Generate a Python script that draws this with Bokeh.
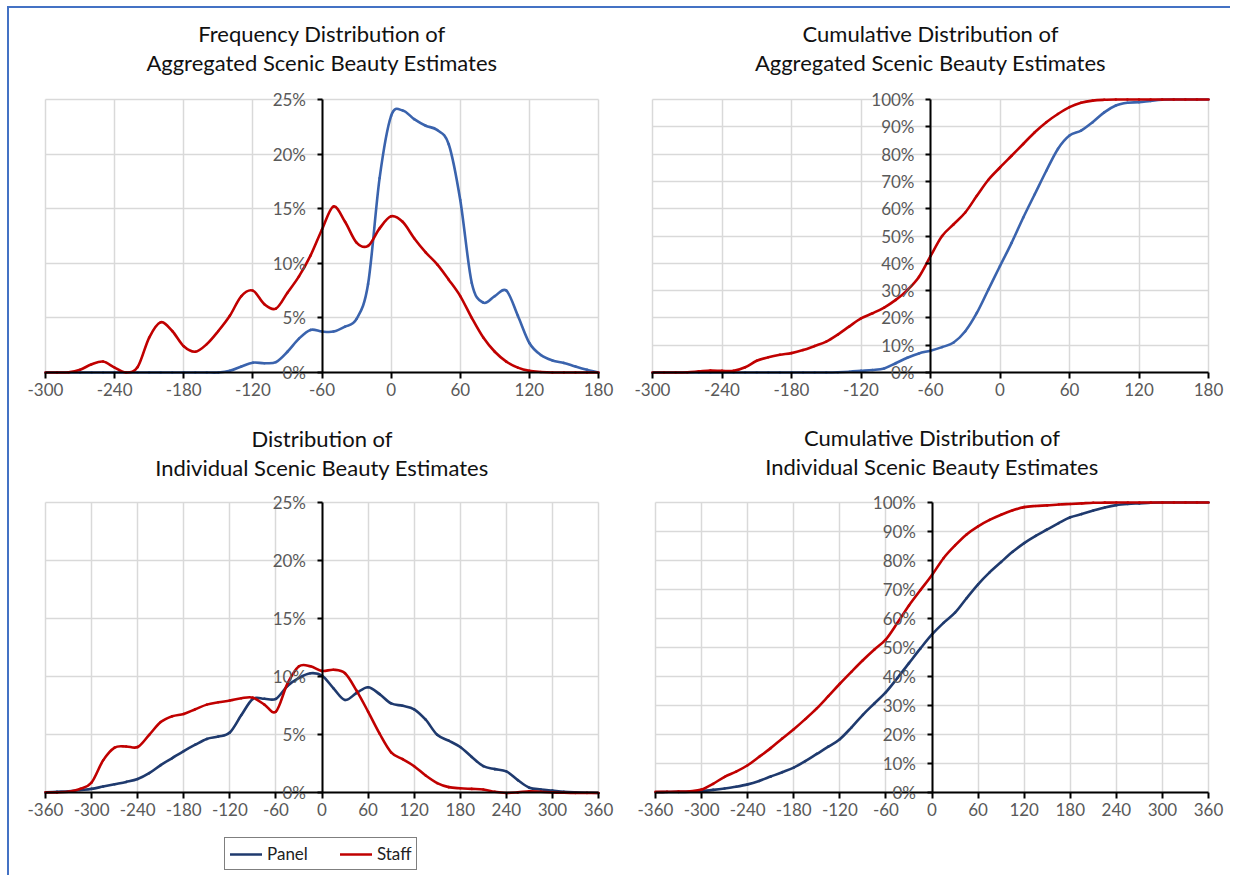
import numpy as np
from bokeh.plotting import figure
from bokeh.models import (FixedTicker, PrintfTickFormatter, Range1d, Title, Legend, LegendItem,
                          LinearAxis, Grid)
from bokeh.layouts import row, column
from bokeh.embed import file_html
from bokeh.resources import INLINE

# ---------------- data ----------------
# Top-left: frequency distribution of aggregated SBE (percent)
tl_x = list(range(-300, 181, 10))
tl_panel = [0, 0, 0, 0, 0, 0, 0, 0, 0, 0, 0, 0, 0, 0, 0, 0,
            0.15, 0.55, 0.9, 0.85, 0.95, 1.9, 3.1, 3.9, 3.75, 3.75, 4.2, 4.9, 8.1, 17.8,
            23.5, 24.0, 23.2, 22.6, 22.2, 20.9, 15.8, 8.2, 6.4, 7.0, 7.5, 5.2, 2.7, 1.6,
            1.1, 0.88, 0.55, 0.25, 0]
tl_staff = [0, 0, 0.02, 0.25, 0.75, 1.0, 0.45, 0, 0.5, 3.2, 4.6, 3.8, 2.4, 1.9, 2.6, 3.8,
            5.2, 7.0, 7.5, 6.25, 5.85, 7.3, 8.8, 10.7, 13.1, 15.2, 13.8, 11.9, 11.6, 13.2,
            14.3, 13.8, 12.3, 11.0, 9.9, 8.5, 7.0, 5.0, 3.2, 1.9, 1.0, 0.45, 0.15, 0.05,
            0, 0, 0, 0, 0]

# Top-right: cumulative distribution of aggregated SBE (percent)
tr_x = list(range(-300, 181, 10))
tr_panel = [0, 0, 0, 0, 0, 0, 0, 0, 0, 0, 0, 0, 0, 0, 0, 0,
            0.1, 0.3, 0.6, 0.9, 1.5, 3.4, 5.4, 7.0, 8.0, 9.3, 11.0, 15.1, 21.8, 30.4,
            39.0, 47.5, 56.7, 65.3, 73.9, 81.9, 86.8, 88.6, 91.7, 95.3, 97.8, 98.8, 99.0, 99.5,
            99.9, 100, 100, 100, 100]
tr_staff = [0, 0, 0, 0.1, 0.4, 0.7, 0.6, 0.6, 1.9, 4.3, 5.6, 6.5, 7.1, 8.2, 9.7, 11.3,
            13.9, 16.9, 19.8, 21.7, 23.8, 26.6, 30.2, 35.0, 42.6, 50.0, 54.3, 58.6, 64.7, 70.6,
            75.1, 79.4, 83.7, 88.0, 91.7, 94.7, 97.2, 98.8, 99.6, 99.9, 100, 100, 100, 100,
            100, 100, 100, 100, 100]

# Bottom-left: distribution of individual SBE (percent)
bl_x = list(range(-360, 361, 15))
bl_panel = [0.05, 0.1, 0.15, 0.25, 0.35, 0.55, 0.75, 0.95, 1.2, 1.7, 2.4, 3.0, 3.6, 4.15,
            4.65, 4.85, 5.2, 6.7, 8.1, 8.1, 8.1, 9.2, 9.9, 10.3, 10.1, 9.0, 8.0, 8.6, 9.1,
            8.5, 7.7, 7.5, 7.2, 6.3, 5.0, 4.5, 3.95, 3.1, 2.3, 2.05, 1.85, 1.1, 0.45, 0.3,
            0.2, 0.1, 0.05, 0.02, 0]
bl_staff = [0.05, 0.05, 0.1, 0.35, 0.9, 2.8, 3.9, 4.0, 3.95, 5.0, 6.1, 6.6, 6.8, 7.2,
            7.6, 7.8, 7.95, 8.15, 8.2, 7.6, 7.0, 9.4, 10.9, 10.9, 10.5, 10.6, 10.3, 8.8, 7.0,
            5.1, 3.5, 2.9, 2.3, 1.5, 0.85, 0.5, 0.4, 0.35, 0.3, 0.1, 0.0, 0.05, 0.15, 0.1,
            0.05, 0.02, 0, 0, 0]

# Bottom-right: cumulative distribution of individual SBE (percent)
br_x = list(range(-360, 361, 15))
br_panel = [0.1, 0.15, 0.2, 0.3, 0.5, 0.9, 1.4, 2.0, 2.8, 4.0, 5.5, 7.0, 8.6, 10.8,
            13.3, 15.8, 18.4, 22.4, 26.8, 30.7, 34.6, 39.5, 44.6, 49.7, 54.5, 58.5, 62.0,
            67.0, 71.8, 75.9, 79.5, 83.0, 86.0, 88.5, 90.7, 92.9, 94.9, 96.0, 97.2, 98.3,
            99.1, 99.5, 99.7, 99.9, 100, 100, 100, 100, 100]
br_staff = [0.2, 0.25, 0.3, 0.45, 1.0, 3.0, 5.4, 7.2, 9.4, 12.3, 15.3, 18.6, 21.8, 25.3,
            29.0, 33.2, 37.5, 41.6, 45.6, 49.3, 52.8, 58.5, 64.5, 69.8, 75.0, 80.8, 85.2,
            89.0, 91.8, 94.0, 95.8, 97.3, 98.4, 98.8, 99.0, 99.3, 99.5, 99.7, 99.9, 99.95,
            100, 100, 100, 100, 100, 100, 100, 100, 100]

top_xticks = list(range(-300, 181, 60))
bottom_xticks = list(range(-360, 361, 60))
freq_yticks = list(range(0, 26, 5))
cum_yticks = list(range(0, 101, 10))

titles = [
    ("Frequency Distribution of", "Aggregated Scenic Beauty Estimates"),
    ("Cumulative Distribution of", "Aggregated Scenic Beauty Estimates"),
    ("Distribution of", "Individual Scenic Beauty Estimates"),
    ("Cumulative Distribution of", "Individual Scenic Beauty Estimates"),
]

series_names = ["Panel", "Staff"]

# ---------------- style ----------------
FONT = "Lato"
TOP_BLUE = "#3A63AD"
NAVY = "#1F3A6E"
RED = "#C00000"
GRID = "#D9D9D9"
TICK_TXT = "#595959"
TITLE_SIZE = "22px"
TICK_SIZE = "17px"
EXT = 10    # px of headroom above the top gridline so the top tick label is not clipped
EXT_X = 20  # px beyond the outer vertical gridlines so the end tick labels are not clipped

HAS_CROSS = "cross_bounds" in Grid.properties()


def spacer_axis(px, mid):
    # an axis with one invisible (white) tick and no label: it only reserves vertical space
    return LinearAxis(ticker=FixedTicker(ticks=[mid]), axis_line_color=None,
                      major_tick_out=px, major_tick_in=0, major_tick_line_color="white",
                      major_tick_line_width=1,
                      minor_tick_out=0, minor_tick_in=0, minor_tick_line_color=None,
                      major_label_standoff=0, major_label_text_color=None)


def make_fig(fig_top, fig_bottom, left_px, right_px, fig_left, fig_right,
             grid_top_px, zero_px, xr, ytop, xticks, yticks, yloc, tlines, gap):
    width = fig_right - fig_left
    height = fig_bottom - fig_top
    frame_top = grid_top_px - EXT
    bt = frame_top - fig_top
    bl = (left_px - EXT_X) - fig_left
    br = fig_right - (right_px + EXT_X)
    per_px = ytop / (zero_px - grid_top_px)
    yend = ytop + EXT * per_px
    ystart = -(fig_bottom - zero_px) * per_px
    xper = (xr[1] - xr[0]) / (right_px - left_px)
    xstart = xr[0] - EXT_X * xper
    xend = xr[1] + EXT_X * xper
    p = figure(width=width, height=height, x_range=Range1d(xstart, xend),
               y_range=Range1d(ystart, yend),
               output_backend="svg", toolbar_location=None,
               min_border_left=bl, min_border_right=br, min_border_top=bt, min_border_bottom=0)
    p.background_fill_color = "white"
    p.border_fill_color = "white"
    p.outline_line_color = None

    xt = FixedTicker(ticks=xticks)
    yt = FixedTicker(ticks=yticks)
    p.xaxis.ticker = xt
    p.yaxis.ticker = yt
    p.xgrid.ticker = xt
    p.ygrid.ticker = yt
    for g in (p.xgrid, p.ygrid):
        g.grid_line_color = GRID
        g.grid_line_width = 1.5
    if HAS_CROSS:
        p.xgrid.cross_bounds = (0, ytop)
        p.ygrid.cross_bounds = tuple(xr)
    p.yaxis.bounds = (0, ytop)
    p.xaxis.bounds = tuple(xr)

    p.xaxis.fixed_location = 0
    p.yaxis.fixed_location = yloc
    p.yaxis.formatter = PrintfTickFormatter(format="%d%%")
    p.xaxis.formatter = PrintfTickFormatter(format="%d")
    for ax in (p.xaxis, p.yaxis):
        ax.axis_line_color = "black"
        ax.axis_line_width = 2
        ax.major_tick_line_color = "black"
        ax.major_tick_line_width = 2
        ax.major_tick_in = 0
        ax.minor_tick_line_color = None
        ax.major_label_text_color = TICK_TXT
        ax.major_label_text_font = FONT
        ax.major_label_text_font_size = TICK_SIZE
    p.xaxis.major_tick_out = 6
    p.xaxis.major_label_standoff = 4
    p.yaxis.major_tick_out = 5
    p.yaxis.major_label_standoff = 11

    # titles: spacer nearest the frame, then second line, then first line
    p.add_layout(spacer_axis(gap, (xr[0] + xr[1]) / 2), "above")
    p.add_layout(Title(text=tlines[1], align="center", text_font=FONT, text_font_size=TITLE_SIZE,
                       text_font_style="normal", text_color="#111111", standoff=0), "above")
    p.title.text = tlines[0]
    p.title.align = "center"
    p.title.text_font = FONT
    p.title.text_font_size = TITLE_SIZE
    p.title.text_font_style = "normal"
    p.title.text_color = "#111111"
    p.title.standoff = 0
    return p


def smooth(p, x, y, color):
    """Smoothed line (as Excel draws it): cubic Bezier segments through the data points."""
    x = np.asarray(x, dtype=float)
    y = np.asarray(y, dtype=float)
    xp = np.concatenate([[x[0]], x, [x[-1]]])
    yp = np.concatenate([[y[0]], y, [y[-1]]])
    x0, y0, x1, y1 = x[:-1], y[:-1], x[1:], y[1:]
    cx0 = x0 + (x1 - xp[:-3]) / 6.0
    cy0 = y0 + (y1 - yp[:-3]) / 6.0
    cx1 = x1 - (xp[3:] - x0) / 6.0
    cy1 = y1 - (yp[3:] - y0) / 6.0
    return p.bezier(x0=x0, y0=y0, x1=x1, y1=y1, cx0=cx0, cy0=cy0, cx1=cx1, cy1=cy1,
                    line_color=color, line_width=2.6, line_cap="round")


ROW1_TOP, ROW_SPLIT, ROW2_BOTTOM = 8, 408, 875
COL_LEFT, COL_SPLIT, COL_RIGHT = 9, 620, 1230

p1 = make_fig(ROW1_TOP, ROW_SPLIT, 45, 598, COL_LEFT, COL_SPLIT, 99, 372,
              (-300, 180), 25, top_xticks, freq_yticks, -60, titles[0], 14)
p2 = make_fig(ROW1_TOP, ROW_SPLIT, 652, 1208, COL_SPLIT, COL_RIGHT, 99, 372,
              (-300, 180), 100, top_xticks, cum_yticks, -60, titles[1], 14)
p3 = make_fig(ROW_SPLIT, ROW2_BOTTOM, 45, 598, COL_LEFT, COL_SPLIT, 500, 792,
              (-360, 360), 25, bottom_xticks, freq_yticks, 0, titles[2], 12)
p4 = make_fig(ROW_SPLIT, ROW2_BOTTOM, 655, 1208, COL_SPLIT, COL_RIGHT, 502, 792,
              (-360, 360), 100, bottom_xticks, cum_yticks, 0, titles[3], 13)

smooth(p1, tl_x, tl_panel, TOP_BLUE)
smooth(p1, tl_x, tl_staff, RED)
smooth(p2, tr_x, tr_panel, TOP_BLUE)
smooth(p2, tr_x, tr_staff, RED)
r_panel = smooth(p3, bl_x, bl_panel, NAVY)
r_staff = smooth(p3, bl_x, bl_staff, RED)
smooth(p4, br_x, br_panel, NAVY)
smooth(p4, br_x, br_staff, RED)

legend = Legend(items=[LegendItem(label=series_names[0], renderers=[r_panel]),
                       LegendItem(label=series_names[1], renderers=[r_staff])],
                location=(224 - 45 + EXT_X, ROW2_BOTTOM - 870), orientation="horizontal")
legend.border_line_color = "black"
legend.border_line_width = 1.5
legend.background_fill_color = "white"
legend.background_fill_alpha = 1
legend.label_text_font = FONT
legend.label_text_font_size = "17px"
legend.label_text_color = "#222222"
legend.glyph_width = 32
legend.glyph_height = 14
legend.label_standoff = 5
legend.spacing = 32
legend.padding = 5
legend.label_height = 14
legend.margin = 0
p3.add_layout(legend, "center")

layout = column(row(p1, p2), row(p3, p4),
                styles={"border-left": "2px solid #4472C4", "border-top": "2px solid #4472C4",
                        "margin-left": "7px", "margin-top": "6px"})

open("out.html", "w").write(file_html(layout, INLINE))
